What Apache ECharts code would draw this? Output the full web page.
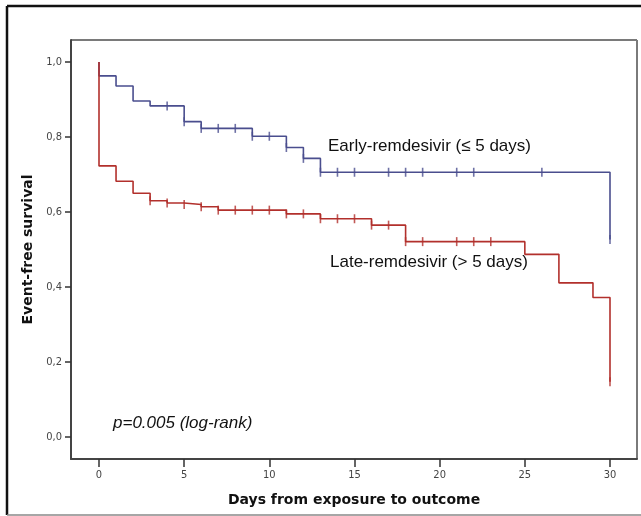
<!DOCTYPE html>
<html>
<head>
<meta charset="utf-8">
<script src="https://cdn.jsdelivr.net/npm/echarts@6/dist/echarts.min.js"></script>
<style>
  html, body { margin: 0; padding: 0; background: #fff; }
  #chart { width: 641px; height: 516px; }
</style>
</head>
<body>
<div id="chart"></div>
<script>
// Kaplan-Meier steps: [day, survival]
var earlySteps = [[0, 1.0], [0, 0.963], [1, 0.936], [2, 0.896], [3, 0.883], [5, 0.841], [6, 0.823],
  [9, 0.802], [11, 0.772], [12, 0.743], [13, 0.706], [30, 0.527]];
var lateSteps = [[0, 1.0], [0, 0.723], [1, 0.682], [2, 0.650], [3, 0.630], [4, 0.624], [5, 0.620],
  [6, 0.614], [7, 0.605], [11, 0.595], [13, 0.582], [16, 0.565], [18, 0.521], [25, 0.487],
  [27, 0.411], [29, 0.372], [30, 0.147]];

// censored observations
var earlyCensored = [[4, 0.883], [5, 0.841], [6, 0.823], [7, 0.823], [8, 0.823], [9, 0.802], [10, 0.802],
  [11, 0.772], [12, 0.743], [13, 0.706], [14, 0.706], [15, 0.706], [17, 0.706], [18, 0.706],
  [19, 0.706], [21, 0.706], [22, 0.706], [26, 0.706], [30, 0.527]];
var lateCensored = [[3, 0.630], [4, 0.624], [5, 0.620], [6, 0.614], [7, 0.605], [8, 0.605], [9, 0.605],
  [10, 0.605], [11, 0.595], [12, 0.595], [13, 0.582], [14, 0.582], [15, 0.582], [16, 0.565],
  [17, 0.565], [18, 0.521], [19, 0.521], [21, 0.521], [22, 0.521], [23, 0.521], [30, 0.147]];

var xTicks = [0, 5, 10, 15, 20, 25, 30];
var yTicks = [0, 0.2, 0.4, 0.6, 0.8, 1.0];

var blue = '#4a4e8e';
var red = '#b2302c';

var chart = echarts.init(document.getElementById('chart'));

chart.setOption({
  animation: false,
  backgroundColor: '#fff',
  grid: { left: 71, right: 4, top: 40, bottom: 57 },
  xAxis: {
    type: 'value',
    min: -1.644, max: 31.585,
    name: 'Days from exposure to outcome',
    nameLocation: 'middle',
    nameGap: 34,
    nameTextStyle: { fontFamily: 'DejaVu Sans', fontWeight: 'bold', fontSize: 14, color: '#111' },
    axisLine: { show: true, onZero: false, lineStyle: { color: '#444', width: 2 } },
    axisTick: { show: true, length: 8, customValues: xTicks, lineStyle: { color: '#333', width: 1.5 } },
    axisLabel: { fontFamily: 'DejaVu Sans Condensed', fontSize: 11, color: '#444', margin: 11,
      customValues: xTicks },
    splitLine: { show: false }
  },
  yAxis: {
    type: 'value',
    min: -0.0587, max: 1.0587,
    name: 'Event-free survival',
    nameLocation: 'middle',
    nameGap: 32,
    nameRotate: 90,
    nameTextStyle: { fontFamily: 'DejaVu Sans', fontWeight: 'bold', fontSize: 14, color: '#111' },
    axisLine: { show: true, onZero: false, lineStyle: { color: '#444', width: 2 } },
    axisTick: { show: true, length: 6, customValues: yTicks, lineStyle: { color: '#333', width: 1.5 } },
    axisLabel: {
      fontFamily: 'DejaVu Sans Condensed', fontSize: 11, color: '#444', margin: 9,
      customValues: yTicks,
      formatter: function (v) { return v.toFixed(1).replace('.', ','); }
    },
    splitLine: { show: false }
  },
  graphic: [
    // top and right of the plot frame
    { type: 'line', shape: { x1: 71, y1: 40, x2: 637, y2: 40 },
      style: { stroke: '#7a7a7a', lineWidth: 2 } },
    { type: 'line', shape: { x1: 637, y1: 40, x2: 637, y2: 459 },
      style: { stroke: '#7a7a7a', lineWidth: 2 } },
    // outer picture border
    { type: 'line', shape: { x1: 7, y1: 6, x2: 641, y2: 6 },
      style: { stroke: '#111', lineWidth: 2.5 } },
    { type: 'line', shape: { x1: 7, y1: 6, x2: 7, y2: 515 },
      style: { stroke: '#111', lineWidth: 2.5 } },
    { type: 'line', shape: { x1: 7, y1: 515, x2: 641, y2: 515 },
      style: { stroke: '#888', lineWidth: 1.5 } },
    { type: 'text', left: 328, top: 138,
      style: { text: 'Early-remdesivir (\u2264 5 days)', font: '17px "Liberation Sans", Arial', fill: '#111' } },
    { type: 'text', left: 330, top: 254,
      style: { text: 'Late-remdesivir (> 5 days)', font: '17px "Liberation Sans", Arial', fill: '#111' } },
    { type: 'text', left: 113, top: 415,
      style: { text: 'p=0.005 (log-rank)', font: 'italic 17px "Liberation Sans", Arial', fill: '#111' } }
  ],
  series: [
    { type: 'line', step: 'end', data: earlySteps, symbol: 'none',
      lineStyle: { color: blue, width: 1.6 }, z: 2 },
    { type: 'line', step: 'end', data: lateSteps, symbol: 'none',
      lineStyle: { color: red, width: 1.6 }, z: 3 },
    { type: 'scatter', data: earlyCensored, symbol: 'rect', symbolSize: [1.6, 9],
      itemStyle: { color: blue }, z: 4 },
    { type: 'scatter', data: lateCensored, symbol: 'rect', symbolSize: [1.6, 9],
      itemStyle: { color: red }, z: 4 }
  ]
});
</script>
</body>
</html>
